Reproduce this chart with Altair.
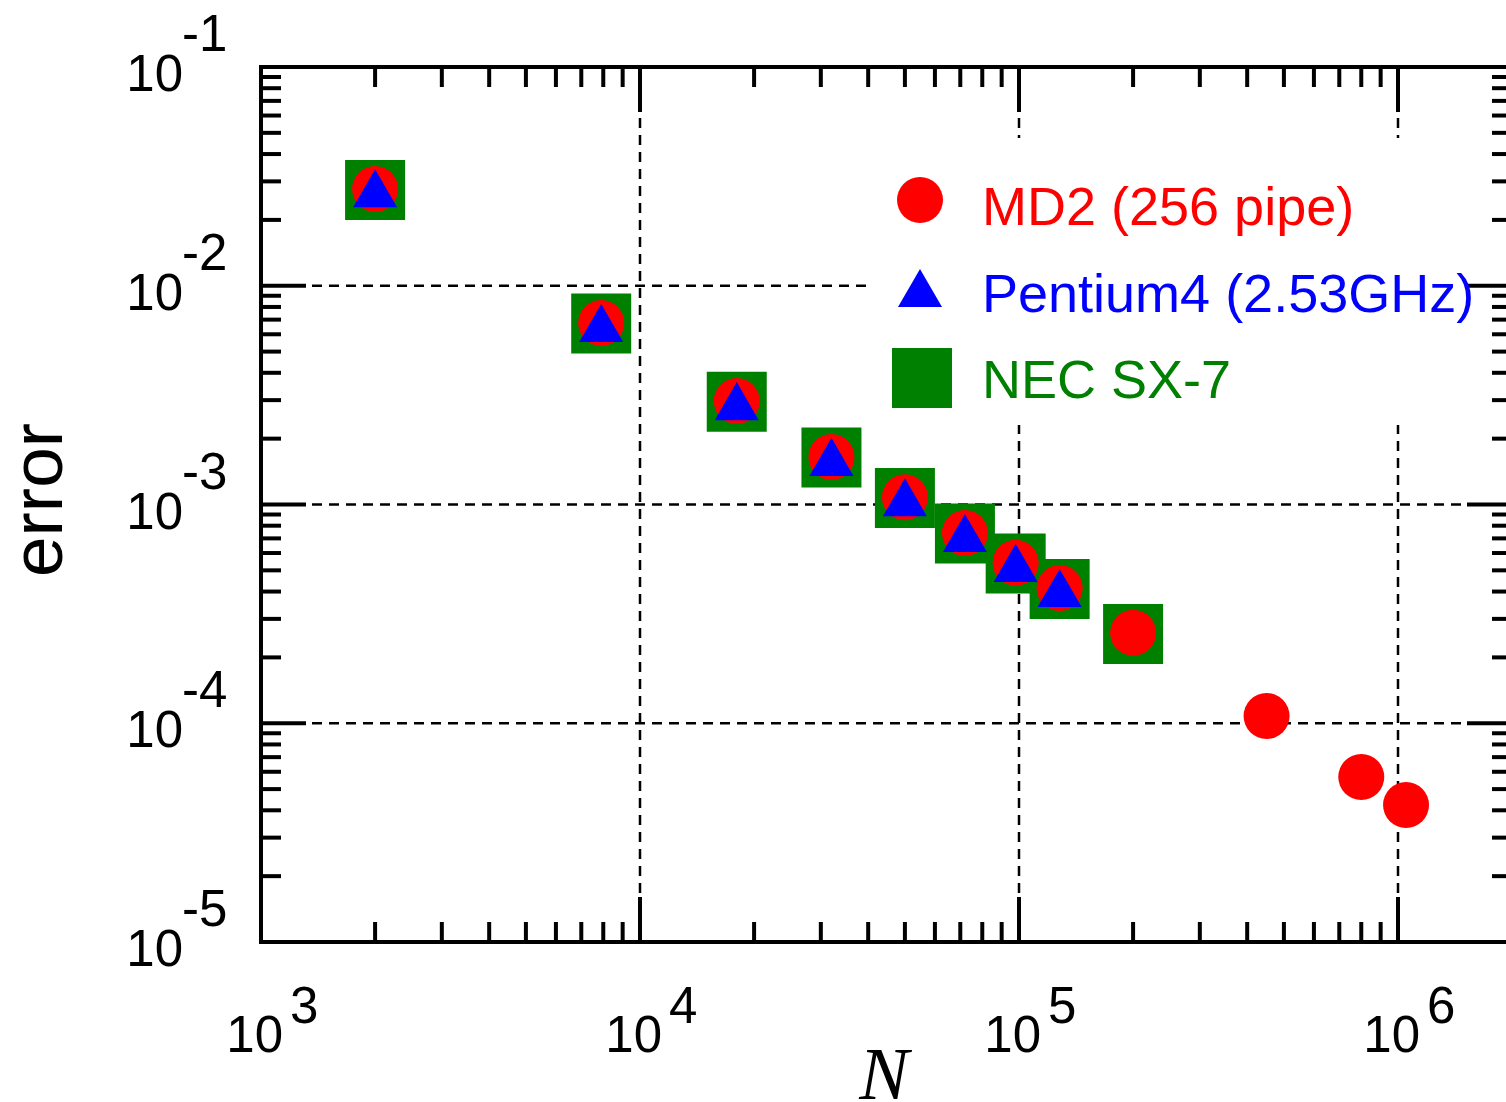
import altair as alt
import pandas as pd

# ---------------- data ----------------
md2_n = [2000, 7900, 18000, 32000, 50000, 72000, 98000, 128000, 200000, 450000, 800000, 1050000]
md2_err = [0.0277, 0.00676, 0.00297, 0.00165, 0.00108, 0.000741, 0.000541, 0.000415, 0.000259, 0.000108, 0.0000568, 0.0000423]

p4_n = [2000, 7900, 18000, 32000, 50000, 72000, 98000, 128000]
p4_err = [0.0279, 0.00676, 0.00297, 0.00165, 0.00108, 0.000741, 0.000541, 0.000415]

sx7_n = [2000, 7900, 18000, 32000, 50000, 72000, 98000, 128000, 200000]
sx7_err = [0.0274, 0.00672, 0.00295, 0.00164, 0.00107, 0.000737, 0.000537, 0.000411, 0.000256]

series_names = ["MD2 (256 pipe)", "Pentium4 (2.53GHz)", "NEC SX-7"]
series_colors = ["#ff0000", "#0000ff", "#008000"]

x_major = [1e3, 1e4, 1e5, 1e6]
x_major_exp = ["3", "4", "5", "6"]
y_major = [1e-5, 1e-4, 1e-3, 1e-2, 1e-1]
y_major_exp = ["-5", "-4", "-3", "-2", "-1"]

# ---------------- layout ----------------
PX_PER_DECADE_X = 379.0
W = 1245
H = 875
XMIN = 1e3
XMAX = 10 ** (3 + W / PX_PER_DECADE_X)
YMIN, YMAX = 1e-5, 1e-1

x_minor = [m * 10 ** e for e in (3, 4, 5, 6) for m in range(2, 10) if m * 10 ** e <= XMAX]
y_minor = [m * 10.0 ** e for e in (-5, -4, -3, -2) for m in range(2, 10)]

FONT = "Liberation Sans"
LBL = 51

def xs():
    return alt.Scale(type="log", domain=[XMIN, XMAX], nice=False)

def ys():
    return alt.Scale(type="log", domain=[YMIN, YMAX], nice=False)

def X(f="v"):
    return alt.X(f"{f}:Q", scale=xs(), axis=None)

def Y(f="v"):
    return alt.Y(f"{f}:Q", scale=ys(), axis=None)

df_xmaj = pd.DataFrame({"v": x_major, "base": ["10"] * len(x_major), "exp": x_major_exp})
df_ymaj = pd.DataFrame({"v": y_major, "base": ["10"] * len(y_major), "exp": y_major_exp})
df_xmin = pd.DataFrame({"v": x_minor})
df_ymin = pd.DataFrame({"v": y_minor})
df_xgrid = pd.DataFrame({"v": x_major[1:]})
df_ygrid = pd.DataFrame({"v": y_major[1:-1]})

df_md2 = pd.DataFrame({"n": md2_n, "err": md2_err})
df_p4 = pd.DataFrame({"n": p4_n, "err": p4_err})
df_sx7 = pd.DataFrame({"n": sx7_n, "err": sx7_err})

layers = []

# grid (dashed, decades only)
grid_style = dict(color="black", strokeWidth=2.5, strokeDash=[10, 7])
layers.append(alt.Chart(df_xgrid).mark_rule(**grid_style).encode(
    x=X(), y=alt.value(0), y2=alt.value(H)))
layers.append(alt.Chart(df_ygrid).mark_rule(**grid_style).encode(
    y=Y(), x=alt.value(0), x2=alt.value(W)))

# legend background (opaque)
layers.append(alt.Chart(pd.DataFrame({"a": [0]})).mark_rect(color="white").encode(
    x=alt.value(609), x2=alt.value(1217), y=alt.value(71), y2=alt.value(358)))

# frame
frame = dict(color="black", strokeWidth=4, strokeCap="square")
one = pd.DataFrame({"a": [0]})
layers.append(alt.Chart(one).mark_rule(**frame).encode(x=alt.value(0), y=alt.value(0), y2=alt.value(H)))
layers.append(alt.Chart(one).mark_rule(**frame).encode(y=alt.value(H), x=alt.value(0), x2=alt.value(W)))
layers.append(alt.Chart(one).mark_rule(**frame).encode(y=alt.value(0), x=alt.value(0), x2=alt.value(W)))

# inward ticks
tk = dict(color="black", strokeWidth=4)
MIN_L, MAJ_L = 20, 45
layers += [
    alt.Chart(df_xmin).mark_rule(**tk).encode(x=X(), y=alt.value(H), y2=alt.value(H - MIN_L)),
    alt.Chart(df_xmaj).mark_rule(**tk).encode(x=X(), y=alt.value(H), y2=alt.value(H - MAJ_L)),
    alt.Chart(df_xmin).mark_rule(**tk).encode(x=X(), y=alt.value(0), y2=alt.value(MIN_L)),
    alt.Chart(df_xmaj).mark_rule(**tk).encode(x=X(), y=alt.value(0), y2=alt.value(MAJ_L)),
    alt.Chart(df_ymin).mark_rule(**tk).encode(y=Y(), x=alt.value(0), x2=alt.value(MIN_L)),
    alt.Chart(df_ymaj).mark_rule(**tk).encode(y=Y(), x=alt.value(0), x2=alt.value(MAJ_L)),
    alt.Chart(df_ymin).mark_rule(**tk).encode(y=Y(), x=alt.value(W - 14), x2=alt.value(W)),
    alt.Chart(df_ymaj).mark_rule(**tk).encode(y=Y(), x=alt.value(W - 39), x2=alt.value(W)),
]

# data markers
layers.append(alt.Chart(df_sx7).mark_point(shape="square", filled=True, size=3600, opacity=1,
                                           color=series_colors[2], strokeWidth=0).encode(
    x=X("n"), y=Y("err")))
layers.append(alt.Chart(df_md2).mark_point(shape="circle", filled=True, size=2116, opacity=1,
                                           color=series_colors[0], strokeWidth=0).encode(
    x=X("n"), y=Y("err")))
layers.append(alt.Chart(df_p4).mark_point(shape="triangle-up", filled=True, size=1936, opacity=1,
                                          color=series_colors[1], strokeWidth=0).encode(
    x=X("n"), y=Y("err")))

# tick labels  10^k
layers.append(alt.Chart(df_xmaj).mark_text(font=FONT, fontSize=LBL, align="right", baseline="alphabetic",
                                           dx=22, color="black").encode(
    x=X(), y=alt.value(H + 110), text="base:N"))
layers.append(alt.Chart(df_xmaj).mark_text(font=FONT, fontSize=LBL, align="left", baseline="alphabetic",
                                           dx=29, color="black").encode(
    x=X(), y=alt.value(H + 81), text="exp:N"))
layers.append(alt.Chart(df_ymaj).mark_text(font=FONT, fontSize=LBL, align="right", baseline="alphabetic",
                                           dy=24, color="black").encode(
    y=Y(), x=alt.value(-78), text="base:N"))
layers.append(alt.Chart(df_ymaj).mark_text(font=FONT, fontSize=LBL, align="left", baseline="alphabetic",
                                           dy=-16, color="black").encode(
    y=Y(), x=alt.value(-79), text="exp:N"))

# axis titles
layers.append(alt.Chart(one).mark_text(text="error", font=FONT, fontSize=73, angle=270, align="center",
                                       baseline="alphabetic", color="black").encode(
    x=alt.value(-199), y=alt.value(433)))
layers.append(alt.Chart(one).mark_text(text="N", font="Liberation Serif", fontStyle="italic", fontSize=74,
                                       align="center", baseline="alphabetic", color="black").encode(
    x=alt.value(623), y=alt.value(H + 157)))

# legend
leg_sym_x = [659, 659, 661]
leg_sym_y = [133, 221, 311]
leg_shapes = ["circle", "triangle-up", "square"]
leg_sizes = [2116, 1936, 3600]
leg_txt_y = [158, 245, 331]
for i in range(3):
    layers.append(alt.Chart(one).mark_point(shape=leg_shapes[i], filled=True, size=leg_sizes[i], opacity=1,
                                            color=series_colors[i], strokeWidth=0).encode(
        x=alt.value(leg_sym_x[i]), y=alt.value(leg_sym_y[i])))
    layers.append(alt.Chart(one).mark_text(text=series_names[i], font=FONT, fontSize=54, align="left",
                                           baseline="alphabetic", color=series_colors[i]).encode(
        x=alt.value(721), y=alt.value(leg_txt_y[i])))

chart = alt.layer(*layers).properties(
    width=W, height=H,
    autosize=alt.AutoSizeParams(type="none"),
    padding={"left": 261, "top": 67, "right": 0, "bottom": 160},
    background="white",
).configure_view(stroke=None)

chart.save("out.html", embed_options={"renderer": "svg", "actions": False})
